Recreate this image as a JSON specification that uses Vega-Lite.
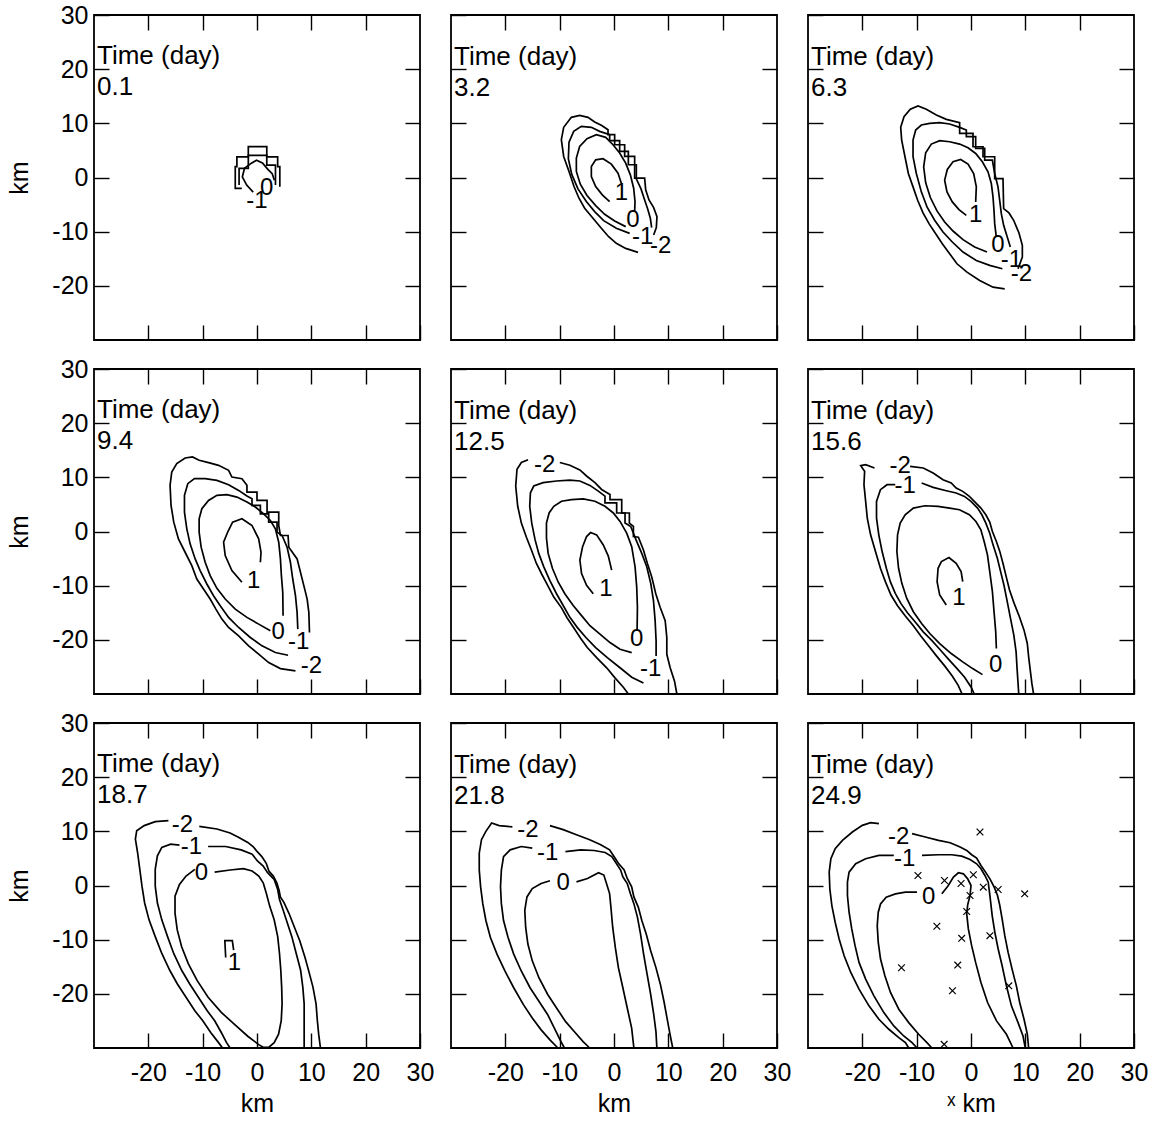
{
"$schema": "https://vega.github.io/schema/vega-lite/v6.json",
"padding": {"left": 6, "top": 2, "right": 0, "bottom": 0},
"config": {
 "font": "Liberation Sans",
 "view": {"stroke": "black", "strokeWidth": 1.8},
 "axis": {"domain": false, "grid": false, "tickColor": "black", "tickWidth": 1.4, "tickSize": -15, "labelFontSize": 25, "labelColor": "black", "labelFont": "Liberation Sans", "titleFontSize": 25, "titleFontWeight": "normal", "titleColor": "black", "titleFont": "Liberation Sans", "minExtent": 0, "labelOverlap": false, "labelFlush": false, "labelExpr": "datum.value < 0 ? '-' + abs(datum.value) : '' + datum.value"},
 "axisX": {"labelPadding": 27, "titlePadding": 6},
 "axisY": {"labelPadding": 21, "titlePadding": 19},
 "title": {"anchor": "start", "frame": "group", "orient": "top", "offset": -87, "baseline": "top", "fontSize": 26, "fontWeight": "normal", "lineHeight": 31, "dx": 3, "color": "black", "font": "Liberation Sans"},
 "line": {"color": "black", "strokeWidth": 1.7, "clip": true},
 "text": {"fontSize": 24, "font": "Liberation Sans", "color": "black"}
},
"datasets": {
 "lines": [
  {"p":1,"g":"m2","x":-2.8,"y":-2.0},{"p":1,"g":"m2","x":-4.0,"y":-2.0},{"p":1,"g":"m2","x":-4.0,"y":2.0},{"p":1,"g":"m2","x":-3.7,"y":2.0},{"p":1,"g":"m2","x":-3.7,"y":3.8},{"p":1,"g":"m2","x":-1.6,"y":3.8},{"p":1,"g":"m2","x":-1.6,"y":5.7},{"p":1,"g":"m2","x":1.8,"y":5.7},{"p":1,"g":"m2","x":1.8,"y":3.8},{"p":1,"g":"m2","x":3.8,"y":3.8},{"p":1,"g":"m2","x":3.8,"y":2.0},{"p":1,"g":"m2","x":4.2,"y":2.0},{"p":1,"g":"m2","x":4.2,"y":-1.7},
  {"p":1,"g":"m1","x":-3.3,"y":-1.4},{"p":1,"g":"m1","x":-3.3,"y":1.7},{"p":1,"g":"m1","x":-1.6,"y":1.7},{"p":1,"g":"m1","x":-1.6,"y":4.1},{"p":1,"g":"m1","x":1.8,"y":4.1},{"p":1,"g":"m1","x":1.8,"y":2.3},{"p":1,"g":"m1","x":3.4,"y":2.3},{"p":1,"g":"m1","x":3.4,"y":-1.4},
  {"p":1,"g":"z","x":-0.7,"y":-2.7},{"p":1,"g":"z","x":-1.9,"y":-1.4},{"p":1,"g":"z","x":-2.7,"y":0.1},{"p":1,"g":"z","x":-2.3,"y":1.7},{"p":1,"g":"z","x":-1.1,"y":2.6},{"p":1,"g":"z","x":-0.1,"y":3.2},{"p":1,"g":"z","x":1.0,"y":2.7},{"p":1,"g":"z","x":2.0,"y":1.5},{"p":1,"g":"z","x":2.8,"y":0.7},{"p":1,"g":"z","x":3.2,"y":-0.5},

  {"p":2,"g":"l1","x":1.35,"y":-1.05},{"p":2,"g":"l1","x":0.74,"y":0.8},{"p":2,"g":"l1","x":-0.49,"y":2.47},{"p":2,"g":"l1","x":-2.02,"y":3.46},{"p":2,"g":"l1","x":-3.37,"y":3.27},{"p":2,"g":"l1","x":-4.17,"y":2.04},{"p":2,"g":"l1","x":-4.17,"y":0.19},{"p":2,"g":"l1","x":-3.37,"y":-1.67},{"p":2,"g":"l1","x":-2.15,"y":-3.21},{"p":2,"g":"l1","x":-0.8,"y":-4.44},
  {"p":2,"g":"z","x":2.15,"y":-9.07},{"p":2,"g":"z","x":0.12,"y":-8.02},{"p":2,"g":"z","x":-1.72,"y":-6.79},{"p":2,"g":"z","x":-3.37,"y":-5.19},{"p":2,"g":"z","x":-4.97,"y":-3.33},{"p":2,"g":"z","x":-6.2,"y":-1.23},{"p":2,"g":"z","x":-6.93,"y":1.11},{"p":2,"g":"z","x":-6.93,"y":3.58},{"p":2,"g":"z","x":-6.32,"y":5.74},{"p":2,"g":"z","x":-4.97,"y":7.16},{"p":2,"g":"z","x":-3.25,"y":7.9},{"p":2,"g":"z","x":-1.53,"y":7.41},{"p":2,"g":"z","x":-0.18,"y":6.05},{"p":2,"g":"z","x":1.04,"y":4.51},{"p":2,"g":"z","x":2.15,"y":2.65},{"p":2,"g":"z","x":3.01,"y":0.49},{"p":2,"g":"z","x":3.62,"y":-1.98},{"p":2,"g":"z","x":3.87,"y":-4.44},{"p":2,"g":"z","x":3.8,"y":-6.3},
  {"p":2,"g":"m1","x":2.88,"y":-10.31},{"p":2,"g":"m1","x":0.43,"y":-9.38},{"p":2,"g":"m1","x":-1.9,"y":-7.96},{"p":2,"g":"m1","x":-3.56,"y":-6.3},{"p":2,"g":"m1","x":-5.09,"y":-4.44},{"p":2,"g":"m1","x":-6.63,"y":-2.1},{"p":2,"g":"m1","x":-7.79,"y":0.62},{"p":2,"g":"m1","x":-8.4,"y":3.46},{"p":2,"g":"m1","x":-8.28,"y":6.54},{"p":2,"g":"m1","x":-7.42,"y":8.52},{"p":2,"g":"m1","x":-6.01,"y":9.44},{"p":2,"g":"m1","x":-4.17,"y":9.26},{"p":2,"g":"m1","x":-2.64,"y":8.52},{"p":2,"g":"m1","x":-0.8,"y":7.9},{"p":2,"g":"m1","x":-0.8,"y":6.79},{"p":2,"g":"m1","x":1.04,"y":6.79},{"p":2,"g":"m1","x":1.04,"y":4.81},{"p":2,"g":"m1","x":2.64,"y":4.81},{"p":2,"g":"m1","x":2.64,"y":2.35},{"p":2,"g":"m1","x":4.11,"y":2.35},{"p":2,"g":"m1","x":4.11,"y":-0.25},{"p":2,"g":"m1","x":4.97,"y":-2.1},{"p":2,"g":"m1","x":5.58,"y":-3.95},{"p":2,"g":"m1","x":6.2,"y":-5.8},{"p":2,"g":"m1","x":6.69,"y":-7.53},{"p":2,"g":"m1","x":6.93,"y":-9.26},
  {"p":2,"g":"m2","x":4.42,"y":-13.83},{"p":2,"g":"m2","x":2.15,"y":-13.09},{"p":2,"g":"m2","x":0.43,"y":-12.16},{"p":2,"g":"m2","x":-0.98,"y":-10.93},{"p":2,"g":"m2","x":-2.33,"y":-9.38},{"p":2,"g":"m2","x":-3.87,"y":-7.53},{"p":2,"g":"m2","x":-5.4,"y":-5.68},{"p":2,"g":"m2","x":-6.44,"y":-3.83},{"p":2,"g":"m2","x":-7.36,"y":-1.67},{"p":2,"g":"m2","x":-8.28,"y":1.11},{"p":2,"g":"m2","x":-9.26,"y":3.89},{"p":2,"g":"m2","x":-9.69,"y":6.98},{"p":2,"g":"m2","x":-9.26,"y":9.26},{"p":2,"g":"m2","x":-7.85,"y":11.11},{"p":2,"g":"m2","x":-6.32,"y":11.48},{"p":2,"g":"m2","x":-4.79,"y":11.11},{"p":2,"g":"m2","x":-3.56,"y":10.25},{"p":2,"g":"m2","x":-2.33,"y":9.63},{"p":2,"g":"m2","x":-1.1,"y":8.83},{"p":2,"g":"m2","x":-1.1,"y":7.9},{"p":2,"g":"m2","x":0.12,"y":7.9},{"p":2,"g":"m2","x":0.12,"y":6.05},{"p":2,"g":"m2","x":1.96,"y":6.05},{"p":2,"g":"m2","x":1.96,"y":3.89},{"p":2,"g":"m2","x":3.8,"y":3.89},{"p":2,"g":"m2","x":3.8,"y":-0.12},{"p":2,"g":"m2","x":5.64,"y":-0.12},{"p":2,"g":"m2","x":5.83,"y":-2.28},{"p":2,"g":"m2","x":6.44,"y":-4.14},{"p":2,"g":"m2","x":7.3,"y":-5.56},{"p":2,"g":"m2","x":7.91,"y":-7.22},{"p":2,"g":"m2","x":7.79,"y":-9.26},{"p":2,"g":"m2","x":7.3,"y":-10.62},

  {"p":3,"g":"l1","x":0.86,"y":-4.51},{"p":3,"g":"l1","x":0.98,"y":-1.73},{"p":3,"g":"l1","x":0.49,"y":0.74},{"p":3,"g":"l1","x":-0.55,"y":2.47},{"p":3,"g":"l1","x":-1.9,"y":3.33},{"p":3,"g":"l1","x":-3.31,"y":2.9},{"p":3,"g":"l1","x":-4.36,"y":1.48},{"p":3,"g":"l1","x":-4.85,"y":-0.49},{"p":3,"g":"l1","x":-4.42,"y":-2.65},{"p":3,"g":"l1","x":-3.44,"y":-4.51},{"p":3,"g":"l1","x":-2.21,"y":-5.93},{"p":3,"g":"l1","x":-0.86,"y":-6.98},
  {"p":3,"g":"z","x":2.94,"y":-13.77},{"p":3,"g":"z","x":0.67,"y":-12.84},{"p":3,"g":"z","x":-1.47,"y":-11.48},{"p":3,"g":"z","x":-3.31,"y":-9.88},{"p":3,"g":"z","x":-4.85,"y":-8.21},{"p":3,"g":"z","x":-6.26,"y":-6.17},{"p":3,"g":"z","x":-7.48,"y":-3.7},{"p":3,"g":"z","x":-8.34,"y":-0.99},{"p":3,"g":"z","x":-8.71,"y":1.98},{"p":3,"g":"z","x":-8.34,"y":4.57},{"p":3,"g":"z","x":-7.3,"y":6.17},{"p":3,"g":"z","x":-5.77,"y":6.79},{"p":3,"g":"z","x":-3.93,"y":6.6},{"p":3,"g":"z","x":-2.09,"y":6.17},{"p":3,"g":"z","x":-0.55,"y":5.49},{"p":3,"g":"z","x":0.86,"y":4.44},{"p":3,"g":"z","x":2.09,"y":2.9},{"p":3,"g":"z","x":3.13,"y":1.05},{"p":3,"g":"z","x":3.74,"y":-1.11},{"p":3,"g":"z","x":4.05,"y":-3.58},{"p":3,"g":"z","x":4.23,"y":-6.05},{"p":3,"g":"z","x":4.36,"y":-8.52},{"p":3,"g":"z","x":4.66,"y":-10.99},
  {"p":3,"g":"m1","x":5.77,"y":-16.85},{"p":3,"g":"m1","x":3.44,"y":-16.23},{"p":3,"g":"m1","x":0.98,"y":-15.31},{"p":3,"g":"m1","x":-1.47,"y":-13.77},{"p":3,"g":"m1","x":-3.44,"y":-11.91},{"p":3,"g":"m1","x":-5.15,"y":-10.06},{"p":3,"g":"m1","x":-6.69,"y":-7.9},{"p":3,"g":"m1","x":-8.1,"y":-5.43},{"p":3,"g":"m1","x":-9.14,"y":-2.65},{"p":3,"g":"m1","x":-10.06,"y":0.74},{"p":3,"g":"m1","x":-10.67,"y":3.83},{"p":3,"g":"m1","x":-10.67,"y":6.91},{"p":3,"g":"m1","x":-10.18,"y":8.77},{"p":3,"g":"m1","x":-9.14,"y":9.69},{"p":3,"g":"m1","x":-7.61,"y":10.0},{"p":3,"g":"m1","x":-5.77,"y":10.12},{"p":3,"g":"m1","x":-3.93,"y":9.88},{"p":3,"g":"m1","x":-2.09,"y":9.26},{"p":3,"g":"m1","x":-0.86,"y":8.77},{"p":3,"g":"m1","x":-0.86,"y":7.53},{"p":3,"g":"m1","x":0.86,"y":7.53},{"p":3,"g":"m1","x":0.86,"y":5.37},{"p":3,"g":"m1","x":2.52,"y":5.37},{"p":3,"g":"m1","x":2.52,"y":3.21},{"p":3,"g":"m1","x":3.93,"y":3.21},{"p":3,"g":"m1","x":4.36,"y":0.74},{"p":3,"g":"m1","x":4.97,"y":-1.73},{"p":3,"g":"m1","x":5.28,"y":-4.2},{"p":3,"g":"m1","x":5.58,"y":-6.67},{"p":3,"g":"m1","x":6.01,"y":-8.83},{"p":3,"g":"m1","x":6.63,"y":-10.86},{"p":3,"g":"m1","x":7.24,"y":-12.84},
  {"p":3,"g":"m2","x":6.2,"y":-20.56},{"p":3,"g":"m2","x":4.05,"y":-20.25},{"p":3,"g":"m2","x":1.6,"y":-19.01},{"p":3,"g":"m2","x":-0.74,"y":-17.47},{"p":3,"g":"m2","x":-2.58,"y":-15.93},{"p":3,"g":"m2","x":-3.93,"y":-14.07},{"p":3,"g":"m2","x":-5.28,"y":-12.22},{"p":3,"g":"m2","x":-6.5,"y":-10.37},{"p":3,"g":"m2","x":-7.73,"y":-8.52},{"p":3,"g":"m2","x":-8.83,"y":-6.54},{"p":3,"g":"m2","x":-9.82,"y":-4.2},{"p":3,"g":"m2","x":-10.67,"y":-1.73},{"p":3,"g":"m2","x":-11.53,"y":0.74},{"p":3,"g":"m2","x":-12.15,"y":3.83},{"p":3,"g":"m2","x":-12.76,"y":6.91},{"p":3,"g":"m2","x":-12.94,"y":9.26},{"p":3,"g":"m2","x":-12.33,"y":11.23},{"p":3,"g":"m2","x":-11.17,"y":12.59},{"p":3,"g":"m2","x":-9.75,"y":13.21},{"p":3,"g":"m2","x":-8.22,"y":12.59},{"p":3,"g":"m2","x":-6.38,"y":11.54},{"p":3,"g":"m2","x":-4.54,"y":10.74},{"p":3,"g":"m2","x":-2.09,"y":10.12},{"p":3,"g":"m2","x":-2.09,"y":8.15},{"p":3,"g":"m2","x":0.37,"y":8.15},{"p":3,"g":"m2","x":0.37,"y":5.68},{"p":3,"g":"m2","x":2.21,"y":5.68},{"p":3,"g":"m2","x":2.21,"y":3.83},{"p":3,"g":"m2","x":4.36,"y":3.83},{"p":3,"g":"m2","x":4.36,"y":-0.19},{"p":3,"g":"m2","x":5.89,"y":-0.19},{"p":3,"g":"m2","x":6.01,"y":-5.74},{"p":3,"g":"m2","x":6.99,"y":-6.54},{"p":3,"g":"m2","x":7.85,"y":-7.9},{"p":3,"g":"m2","x":8.83,"y":-10.25},{"p":3,"g":"m2","x":9.45,"y":-12.53},{"p":3,"g":"m2","x":9.45,"y":-14.69},{"p":3,"g":"m2","x":8.65,"y":-16.85},

  {"p":4,"g":"l1","x":-2.77,"y":-9.38},{"p":4,"g":"l1","x":-4.62,"y":-7.22},{"p":4,"g":"l1","x":-5.85,"y":-4.44},{"p":4,"g":"l1","x":-6.15,"y":-1.98},{"p":4,"g":"l1","x":-5.35,"y":0.0},{"p":4,"g":"l1","x":-4.49,"y":1.73},{"p":4,"g":"l1","x":-2.77,"y":2.35},{"p":4,"g":"l1","x":-0.92,"y":1.11},{"p":4,"g":"l1","x":0.31,"y":-1.36},{"p":4,"g":"l1","x":0.74,"y":-3.83},{"p":4,"g":"l1","x":0.62,"y":-5.68},
  {"p":4,"g":"z","x":2.46,"y":-18.33},{"p":4,"g":"z","x":0.31,"y":-17.1},{"p":4,"g":"z","x":-1.85,"y":-15.86},{"p":4,"g":"z","x":-4.0,"y":-14.32},{"p":4,"g":"z","x":-5.85,"y":-12.47},{"p":4,"g":"z","x":-7.38,"y":-10.49},{"p":4,"g":"z","x":-8.62,"y":-8.15},{"p":4,"g":"z","x":-9.54,"y":-5.68},{"p":4,"g":"z","x":-10.28,"y":-2.9},{"p":4,"g":"z","x":-10.65,"y":-0.12},{"p":4,"g":"z","x":-10.65,"y":2.35},{"p":4,"g":"z","x":-10.15,"y":4.2},{"p":4,"g":"z","x":-8.92,"y":5.74},{"p":4,"g":"z","x":-7.38,"y":6.67},{"p":4,"g":"z","x":-5.54,"y":6.79},{"p":4,"g":"z","x":-3.69,"y":6.36},{"p":4,"g":"z","x":-1.85,"y":5.43},{"p":4,"g":"z","x":-0.31,"y":4.51},{"p":4,"g":"z","x":1.23,"y":3.27},{"p":4,"g":"z","x":2.46,"y":2.04},{"p":4,"g":"z","x":3.38,"y":0.49},{"p":4,"g":"z","x":4.0,"y":-1.98},{"p":4,"g":"z","x":4.31,"y":-5.06},{"p":4,"g":"z","x":4.49,"y":-8.15},{"p":4,"g":"z","x":4.74,"y":-11.23},{"p":4,"g":"z","x":4.8,"y":-15.56},
  {"p":4,"g":"m1","x":5.72,"y":-22.84},{"p":4,"g":"m1","x":3.38,"y":-22.35},{"p":4,"g":"m1","x":0.92,"y":-21.11},{"p":4,"g":"m1","x":-1.23,"y":-19.57},{"p":4,"g":"m1","x":-3.38,"y":-17.72},{"p":4,"g":"m1","x":-5.23,"y":-15.86},{"p":4,"g":"m1","x":-6.77,"y":-13.7},{"p":4,"g":"m1","x":-8.0,"y":-11.85},{"p":4,"g":"m1","x":-9.23,"y":-9.69},{"p":4,"g":"m1","x":-10.46,"y":-7.22},{"p":4,"g":"m1","x":-11.38,"y":-5.06},{"p":4,"g":"m1","x":-12.31,"y":-2.28},{"p":4,"g":"m1","x":-12.92,"y":0.49},{"p":4,"g":"m1","x":-13.35,"y":3.58},{"p":4,"g":"m1","x":-13.35,"y":6.67},{"p":4,"g":"m1","x":-12.74,"y":8.83},{"p":4,"g":"m1","x":-11.51,"y":9.75},{"p":4,"g":"m1","x":-9.54,"y":9.75},{"p":4,"g":"m1","x":-7.38,"y":9.44},{"p":4,"g":"m1","x":-5.23,"y":8.64},{"p":4,"g":"m1","x":-3.38,"y":7.59},{"p":4,"g":"m1","x":-1.85,"y":6.54},{"p":4,"g":"m1","x":-0.92,"y":6.05},{"p":4,"g":"m1","x":-0.92,"y":4.81},{"p":4,"g":"m1","x":0.62,"y":4.81},{"p":4,"g":"m1","x":0.62,"y":3.27},{"p":4,"g":"m1","x":2.15,"y":3.27},{"p":4,"g":"m1","x":2.15,"y":1.73},{"p":4,"g":"m1","x":3.69,"y":1.73},{"p":4,"g":"m1","x":3.69,"y":-0.12},{"p":4,"g":"m1","x":4.62,"y":-0.74},{"p":4,"g":"m1","x":5.54,"y":-2.9},{"p":4,"g":"m1","x":6.15,"y":-5.68},{"p":4,"g":"m1","x":6.58,"y":-8.77},{"p":4,"g":"m1","x":7.08,"y":-11.85},{"p":4,"g":"m1","x":7.38,"y":-14.94},{"p":4,"g":"m1","x":7.51,"y":-18.02},
  {"p":4,"g":"m2","x":7.08,"y":-25.74},{"p":4,"g":"m2","x":4.31,"y":-25.31},{"p":4,"g":"m2","x":2.15,"y":-24.2},{"p":4,"g":"m2","x":0.31,"y":-22.65},{"p":4,"g":"m2","x":-1.54,"y":-21.11},{"p":4,"g":"m2","x":-3.38,"y":-19.26},{"p":4,"g":"m2","x":-5.23,"y":-17.72},{"p":4,"g":"m2","x":-6.46,"y":-16.17},{"p":4,"g":"m2","x":-7.57,"y":-14.32},{"p":4,"g":"m2","x":-8.62,"y":-12.47},{"p":4,"g":"m2","x":-9.85,"y":-10.62},{"p":4,"g":"m2","x":-11.08,"y":-8.77},{"p":4,"g":"m2","x":-12.0,"y":-6.3},{"p":4,"g":"m2","x":-13.23,"y":-3.83},{"p":4,"g":"m2","x":-14.46,"y":-1.36},{"p":4,"g":"m2","x":-15.32,"y":1.73},{"p":4,"g":"m2","x":-15.82,"y":4.81},{"p":4,"g":"m2","x":-16.0,"y":8.52},{"p":4,"g":"m2","x":-15.69,"y":10.99},{"p":4,"g":"m2","x":-14.77,"y":12.53},{"p":4,"g":"m2","x":-13.23,"y":13.58},{"p":4,"g":"m2","x":-11.88,"y":13.77},{"p":4,"g":"m2","x":-10.65,"y":13.15},{"p":4,"g":"m2","x":-8.92,"y":12.72},{"p":4,"g":"m2","x":-7.08,"y":12.22},{"p":4,"g":"m2","x":-5.23,"y":11.3},{"p":4,"g":"m2","x":-4.62,"y":10.06},{"p":4,"g":"m2","x":-2.77,"y":9.75},{"p":4,"g":"m2","x":-1.85,"y":8.52},{"p":4,"g":"m2","x":-1.85,"y":7.28},{"p":4,"g":"m2","x":0.0,"y":7.28},{"p":4,"g":"m2","x":0.0,"y":5.74},{"p":4,"g":"m2","x":1.85,"y":5.74},{"p":4,"g":"m2","x":1.85,"y":3.58},{"p":4,"g":"m2","x":4.0,"y":3.58},{"p":4,"g":"m2","x":4.0,"y":1.11},{"p":4,"g":"m2","x":4.31,"y":-0.74},{"p":4,"g":"m2","x":5.72,"y":-0.74},{"p":4,"g":"m2","x":5.85,"y":-2.9},{"p":4,"g":"m2","x":7.38,"y":-5.06},{"p":4,"g":"m2","x":8.0,"y":-7.53},{"p":4,"g":"m2","x":8.62,"y":-10.0},{"p":4,"g":"m2","x":9.23,"y":-12.47},{"p":4,"g":"m2","x":9.54,"y":-14.94},{"p":4,"g":"m2","x":9.66,"y":-18.64},

  {"p":5,"g":"l1","x":-3.82,"y":-11.49},{"p":5,"g":"l1","x":-5.05,"y":-9.94},{"p":5,"g":"l1","x":-5.97,"y":-7.76},{"p":5,"g":"l1","x":-6.28,"y":-5.28},{"p":5,"g":"l1","x":-5.78,"y":-2.8},{"p":5,"g":"l1","x":-5.05,"y":-0.93},{"p":5,"g":"l1","x":-4.31,"y":-0.19},{"p":5,"g":"l1","x":-3.2,"y":-0.62},{"p":5,"g":"l1","x":-1.97,"y":-2.48},{"p":5,"g":"l1","x":-1.05,"y":-4.53},{"p":5,"g":"l1","x":-0.43,"y":-7.14},
  {"p":5,"g":"z","x":3.26,"y":-22.36},{"p":5,"g":"z","x":1.11,"y":-21.74},{"p":5,"g":"z","x":-0.74,"y":-20.5},{"p":5,"g":"z","x":-2.58,"y":-18.94},{"p":5,"g":"z","x":-4.43,"y":-17.39},{"p":5,"g":"z","x":-5.97,"y":-15.53},{"p":5,"g":"z","x":-7.51,"y":-13.66},{"p":5,"g":"z","x":-9.05,"y":-11.49},{"p":5,"g":"z","x":-10.28,"y":-9.32},{"p":5,"g":"z","x":-11.32,"y":-6.83},{"p":5,"g":"z","x":-12.12,"y":-4.04},{"p":5,"g":"z","x":-12.43,"y":-1.24},{"p":5,"g":"z","x":-12.43,"y":1.55},{"p":5,"g":"z","x":-11.94,"y":3.42},{"p":5,"g":"z","x":-11.08,"y":4.66},{"p":5,"g":"z","x":-9.66,"y":5.59},{"p":5,"g":"z","x":-7.82,"y":5.9},{"p":5,"g":"z","x":-5.66,"y":6.02},{"p":5,"g":"z","x":-3.51,"y":5.59},{"p":5,"g":"z","x":-1.66,"y":4.66},{"p":5,"g":"z","x":-0.12,"y":3.42},{"p":5,"g":"z","x":1.11,"y":1.86},{"p":5,"g":"z","x":2.34,"y":-0.31},{"p":5,"g":"z","x":3.26,"y":-2.8},{"p":5,"g":"z","x":3.88,"y":-6.52},{"p":5,"g":"z","x":4.18,"y":-10.25},{"p":5,"g":"z","x":4.31,"y":-13.98},{"p":5,"g":"z","x":4.25,"y":-18.32},
  {"p":5,"g":"m1","x":5.42,"y":-27.95},{"p":5,"g":"m1","x":3.26,"y":-26.89},{"p":5,"g":"m1","x":1.11,"y":-25.16},{"p":5,"g":"m1","x":-1.23,"y":-23.29},{"p":5,"g":"m1","x":-3.38,"y":-21.43},{"p":5,"g":"m1","x":-5.17,"y":-19.57},{"p":5,"g":"m1","x":-6.77,"y":-17.7},{"p":5,"g":"m1","x":-8.12,"y":-15.84},{"p":5,"g":"m1","x":-9.35,"y":-13.66},{"p":5,"g":"m1","x":-10.58,"y":-11.49},{"p":5,"g":"m1","x":-11.82,"y":-9.01},{"p":5,"g":"m1","x":-12.92,"y":-6.52},{"p":5,"g":"m1","x":-13.85,"y":-4.04},{"p":5,"g":"m1","x":-14.52,"y":-1.55},{"p":5,"g":"m1","x":-15.14,"y":1.55},{"p":5,"g":"m1","x":-15.51,"y":4.66},{"p":5,"g":"m1","x":-15.38,"y":7.14},{"p":5,"g":"m1","x":-14.77,"y":8.39},{"p":5,"g":"m1","x":-13.05,"y":9.01},{"p":5,"g":"m1","x":-10.58,"y":9.32},{"p":5,"g":"m1","x":-8.12,"y":9.5},{"p":5,"g":"m1","x":-6.28,"y":9.32},{"p":5,"g":"m1","x":-4.43,"y":8.51},{"p":5,"g":"m1","x":-2.89,"y":7.45},{"p":5,"g":"m1","x":-1.66,"y":6.52},{"p":5,"g":"m1","x":-1.66,"y":5.28},{"p":5,"g":"m1","x":0.49,"y":5.28},{"p":5,"g":"m1","x":0.49,"y":3.42},{"p":5,"g":"m1","x":2.03,"y":3.42},{"p":5,"g":"m1","x":2.03,"y":1.55},{"p":5,"g":"m1","x":3.08,"y":0.93},{"p":5,"g":"m1","x":4.06,"y":-1.55},{"p":5,"g":"m1","x":5.11,"y":-4.04},{"p":5,"g":"m1","x":6.03,"y":-6.52},{"p":5,"g":"m1","x":6.77,"y":-9.63},{"p":5,"g":"m1","x":7.26,"y":-12.73},{"p":5,"g":"m1","x":7.57,"y":-16.46},{"p":5,"g":"m1","x":7.75,"y":-20.19},{"p":5,"g":"m1","x":7.75,"y":-22.98},
  {"p":5,"g":"m2a","x":-15.82,"y":13.23},{"p":5,"g":"m2a","x":-17.05,"y":12.73},{"p":5,"g":"m2a","x":-17.85,"y":11.49},{"p":5,"g":"m2a","x":-18.09,"y":8.39},{"p":5,"g":"m2a","x":-17.72,"y":4.66},{"p":5,"g":"m2a","x":-17.05,"y":1.55},{"p":5,"g":"m2a","x":-16.12,"y":-1.06},{"p":5,"g":"m2a","x":-15.2,"y":-3.42},{"p":5,"g":"m2a","x":-14.28,"y":-5.9},{"p":5,"g":"m2a","x":-13.29,"y":-7.89},{"p":5,"g":"m2a","x":-12.31,"y":-9.75},{"p":5,"g":"m2a","x":-11.08,"y":-12.11},{"p":5,"g":"m2a","x":-9.66,"y":-14.1},{"p":5,"g":"m2a","x":-8.62,"y":-15.96},{"p":5,"g":"m2a","x":-7.38,"y":-17.83},{"p":5,"g":"m2a","x":-6.15,"y":-19.69},{"p":5,"g":"m2a","x":-4.92,"y":-21.43},{"p":5,"g":"m2a","x":-3.2,"y":-23.29},{"p":5,"g":"m2a","x":-1.35,"y":-25.16},{"p":5,"g":"m2a","x":0.18,"y":-27.02},{"p":5,"g":"m2a","x":1.72,"y":-28.76},{"p":5,"g":"m2a","x":2.65,"y":-30.0},
  {"p":5,"g":"m2b","x":-9.97,"y":12.73},{"p":5,"g":"m2b","x":-8.12,"y":12.24},{"p":5,"g":"m2b","x":-6.28,"y":11.37},{"p":5,"g":"m2b","x":-5.05,"y":10.25},{"p":5,"g":"m2b","x":-3.51,"y":9.01},{"p":5,"g":"m2b","x":-2.28,"y":7.76},{"p":5,"g":"m2b","x":-0.74,"y":6.83},{"p":5,"g":"m2b","x":-0.74,"y":5.9},{"p":5,"g":"m2b","x":1.42,"y":5.9},{"p":5,"g":"m2b","x":1.42,"y":3.42},{"p":5,"g":"m2b","x":2.83,"y":3.42},{"p":5,"g":"m2b","x":2.83,"y":1.55},{"p":5,"g":"m2b","x":3.57,"y":0.93},{"p":5,"g":"m2b","x":3.57,"y":-0.93},{"p":5,"g":"m2b","x":4.49,"y":-1.06},{"p":5,"g":"m2b","x":5.42,"y":-3.42},{"p":5,"g":"m2b","x":6.15,"y":-5.9},{"p":5,"g":"m2b","x":6.95,"y":-8.39},{"p":5,"g":"m2b","x":7.69,"y":-11.49},{"p":5,"g":"m2b","x":8.49,"y":-13.98},{"p":5,"g":"m2b","x":9.42,"y":-16.46},{"p":5,"g":"m2b","x":9.72,"y":-19.57},{"p":5,"g":"m2b","x":9.72,"y":-22.67},{"p":5,"g":"m2b","x":10.34,"y":-25.16},{"p":5,"g":"m2b","x":11.14,"y":-27.64},{"p":5,"g":"m2b","x":11.57,"y":-30.0},

  {"p":6,"g":"l1","x":-4.55,"y":-13.58},{"p":6,"g":"l1","x":-5.76,"y":-11.73},{"p":6,"g":"l1","x":-6.24,"y":-9.26},{"p":6,"g":"l1","x":-6.06,"y":-6.79},{"p":6,"g":"l1","x":-5.45,"y":-5.56},{"p":6,"g":"l1","x":-4.06,"y":-4.81},{"p":6,"g":"l1","x":-2.73,"y":-5.86},{"p":6,"g":"l1","x":-1.82,"y":-7.41},{"p":6,"g":"l1","x":-1.52,"y":-9.26},
  {"p":6,"g":"z","x":2.12,"y":-26.42},{"p":6,"g":"z","x":0.3,"y":-25.31},{"p":6,"g":"z","x":-1.52,"y":-24.07},{"p":6,"g":"z","x":-3.64,"y":-22.53},{"p":6,"g":"z","x":-5.76,"y":-20.68},{"p":6,"g":"z","x":-7.58,"y":-18.83},{"p":6,"g":"z","x":-9.09,"y":-16.98},{"p":6,"g":"z","x":-10.61,"y":-14.81},{"p":6,"g":"z","x":-11.82,"y":-12.35},{"p":6,"g":"z","x":-12.73,"y":-9.57},{"p":6,"g":"z","x":-13.33,"y":-6.79},{"p":6,"g":"z","x":-13.64,"y":-3.7},{"p":6,"g":"z","x":-13.52,"y":-0.62},{"p":6,"g":"z","x":-13.03,"y":1.54},{"p":6,"g":"z","x":-12.12,"y":3.09},{"p":6,"g":"z","x":-10.61,"y":4.32},{"p":6,"g":"z","x":-8.48,"y":4.75},{"p":6,"g":"z","x":-6.06,"y":4.63},{"p":6,"g":"z","x":-3.94,"y":4.32},{"p":6,"g":"z","x":-2.12,"y":4.01},{"p":6,"g":"z","x":-0.3,"y":3.09},{"p":6,"g":"z","x":0.91,"y":1.85},{"p":6,"g":"z","x":1.82,"y":0.31},{"p":6,"g":"z","x":2.42,"y":-1.85},{"p":6,"g":"z","x":3.03,"y":-4.32},{"p":6,"g":"z","x":3.45,"y":-7.41},{"p":6,"g":"z","x":3.94,"y":-11.11},{"p":6,"g":"z","x":4.24,"y":-14.81},{"p":6,"g":"z","x":4.55,"y":-18.52},{"p":6,"g":"z","x":4.67,"y":-21.6},
  {"p":6,"g":"m1a","x":-13.94,"y":8.64},{"p":6,"g":"m1a","x":-15.45,"y":8.64},{"p":6,"g":"m1a","x":-16.67,"y":7.72},{"p":6,"g":"m1a","x":-17.39,"y":5.56},{"p":6,"g":"m1a","x":-17.39,"y":2.47},{"p":6,"g":"m1a","x":-16.97,"y":-0.62},{"p":6,"g":"m1a","x":-16.36,"y":-3.7},{"p":6,"g":"m1a","x":-15.58,"y":-6.79},{"p":6,"g":"m1a","x":-14.85,"y":-9.26},{"p":6,"g":"m1a","x":-13.94,"y":-11.42},{"p":6,"g":"m1a","x":-12.91,"y":-13.27},{"p":6,"g":"m1a","x":-11.7,"y":-15.0},{"p":6,"g":"m1a","x":-10.3,"y":-16.67},{"p":6,"g":"m1a","x":-8.79,"y":-18.52},{"p":6,"g":"m1a","x":-7.27,"y":-20.06},{"p":6,"g":"m1a","x":-5.76,"y":-21.73},{"p":6,"g":"m1a","x":-4.24,"y":-23.46},{"p":6,"g":"m1a","x":-2.73,"y":-25.12},{"p":6,"g":"m1a","x":-1.21,"y":-26.85},{"p":6,"g":"m1a","x":0.0,"y":-28.7},{"p":6,"g":"m1a","x":0.61,"y":-30.0},
  {"p":6,"g":"m1b","x":-9.09,"y":8.95},{"p":6,"g":"m1b","x":-6.97,"y":8.15},{"p":6,"g":"m1b","x":-4.55,"y":7.53},{"p":6,"g":"m1b","x":-2.73,"y":7.1},{"p":6,"g":"m1b","x":-1.21,"y":6.48},{"p":6,"g":"m1b","x":0.0,"y":5.56},{"p":6,"g":"m1b","x":1.21,"y":4.32},{"p":6,"g":"m1b","x":2.0,"y":3.09},{"p":6,"g":"m1b","x":2.73,"y":1.54},{"p":6,"g":"m1b","x":3.45,"y":-0.31},{"p":6,"g":"m1b","x":4.06,"y":-2.47},{"p":6,"g":"m1b","x":4.85,"y":-4.94},{"p":6,"g":"m1b","x":5.45,"y":-7.41},{"p":6,"g":"m1b","x":6.06,"y":-9.88},{"p":6,"g":"m1b","x":6.67,"y":-12.96},{"p":6,"g":"m1b","x":7.27,"y":-16.05},{"p":6,"g":"m1b","x":7.88,"y":-19.14},{"p":6,"g":"m1b","x":8.3,"y":-22.22},{"p":6,"g":"m1b","x":8.48,"y":-25.31},{"p":6,"g":"m1b","x":8.79,"y":-30.0},
  {"p":6,"g":"m2a","x":-17.76,"y":11.73},{"p":6,"g":"m2a","x":-19.39,"y":12.35},{"p":6,"g":"m2a","x":-20.3,"y":12.16},{"p":6,"g":"m2a","x":-19.58,"y":11.11},{"p":6,"g":"m2a","x":-19.7,"y":8.64},{"p":6,"g":"m2a","x":-19.39,"y":5.56},{"p":6,"g":"m2a","x":-19.09,"y":2.47},{"p":6,"g":"m2a","x":-18.48,"y":-0.62},{"p":6,"g":"m2a","x":-17.58,"y":-3.7},{"p":6,"g":"m2a","x":-16.67,"y":-6.79},{"p":6,"g":"m2a","x":-15.76,"y":-9.26},{"p":6,"g":"m2a","x":-14.73,"y":-11.73},{"p":6,"g":"m2a","x":-13.52,"y":-13.7},{"p":6,"g":"m2a","x":-12.12,"y":-15.56},{"p":6,"g":"m2a","x":-10.61,"y":-17.41},{"p":6,"g":"m2a","x":-9.27,"y":-19.26},{"p":6,"g":"m2a","x":-7.82,"y":-21.11},{"p":6,"g":"m2a","x":-6.36,"y":-22.96},{"p":6,"g":"m2a","x":-4.85,"y":-24.81},{"p":6,"g":"m2a","x":-3.45,"y":-26.67},{"p":6,"g":"m2a","x":-2.36,"y":-28.4},{"p":6,"g":"m2a","x":-1.64,"y":-30.0},
  {"p":6,"g":"m2b","x":-11.21,"y":12.04},{"p":6,"g":"m2b","x":-8.79,"y":11.73},{"p":6,"g":"m2b","x":-6.97,"y":10.8},{"p":6,"g":"m2b","x":-5.15,"y":9.57},{"p":6,"g":"m2b","x":-3.64,"y":8.95},{"p":6,"g":"m2b","x":-2.73,"y":8.02},{"p":6,"g":"m2b","x":-1.52,"y":7.41},{"p":6,"g":"m2b","x":-0.3,"y":6.48},{"p":6,"g":"m2b","x":0.61,"y":5.56},{"p":6,"g":"m2b","x":1.82,"y":4.32},{"p":6,"g":"m2b","x":2.73,"y":3.09},{"p":6,"g":"m2b","x":3.45,"y":1.73},{"p":6,"g":"m2b","x":3.94,"y":0.0},{"p":6,"g":"m2b","x":4.67,"y":-1.85},{"p":6,"g":"m2b","x":5.27,"y":-3.58},{"p":6,"g":"m2b","x":5.88,"y":-5.86},{"p":6,"g":"m2b","x":6.48,"y":-8.33},{"p":6,"g":"m2b","x":7.09,"y":-10.8},{"p":6,"g":"m2b","x":7.94,"y":-13.27},{"p":6,"g":"m2b","x":8.91,"y":-15.74},{"p":6,"g":"m2b","x":9.76,"y":-18.21},{"p":6,"g":"m2b","x":10.36,"y":-20.68},{"p":6,"g":"m2b","x":10.61,"y":-23.15},{"p":6,"g":"m2b","x":10.91,"y":-25.62},{"p":6,"g":"m2b","x":11.21,"y":-28.09},{"p":6,"g":"m2b","x":11.52,"y":-30.0},

  {"p":7,"g":"l1","x":-5.76,"y":-13.29},{"p":7,"g":"l1","x":-5.92,"y":-10.19},{"p":7,"g":"l1","x":-4.54,"y":-10.19},{"p":7,"g":"l1","x":-4.3,"y":-11.93},
  {"p":7,"g":"z","x":-7.79,"y":2.48},{"p":7,"g":"z","x":-4.95,"y":2.86},{"p":7,"g":"z","x":-2.51,"y":3.11},{"p":7,"g":"z","x":-0.89,"y":2.67},{"p":7,"g":"z","x":0.32,"y":1.74},{"p":7,"g":"z","x":1.14,"y":0.5},{"p":7,"g":"z","x":1.7,"y":-1.37},{"p":7,"g":"z","x":2.35,"y":-3.85},{"p":7,"g":"z","x":3.16,"y":-6.34},{"p":7,"g":"z","x":3.81,"y":-9.44},{"p":7,"g":"z","x":4.14,"y":-12.55},{"p":7,"g":"z","x":4.38,"y":-15.65},{"p":7,"g":"z","x":4.54,"y":-18.76},{"p":7,"g":"z","x":4.62,"y":-21.86},{"p":7,"g":"z","x":4.46,"y":-24.97},{"p":7,"g":"z","x":3.97,"y":-27.45},{"p":7,"g":"z","x":3.16,"y":-29.01},{"p":7,"g":"z","x":2.2,"y":-29.85},{"p":7,"g":"z","x":1.2,"y":-29.9},{"p":7,"g":"z","x":0.32,"y":-29.38},{"p":7,"g":"z","x":-1.7,"y":-27.83},{"p":7,"g":"z","x":-4.14,"y":-25.65},{"p":7,"g":"z","x":-6.57,"y":-23.42},{"p":7,"g":"z","x":-9.0,"y":-20.62},{"p":7,"g":"z","x":-11.03,"y":-17.52},{"p":7,"g":"z","x":-12.65,"y":-14.41},{"p":7,"g":"z","x":-13.87,"y":-11.3},{"p":7,"g":"z","x":-14.68,"y":-8.2},{"p":7,"g":"z","x":-15.09,"y":-5.09},{"p":7,"g":"z","x":-15.09,"y":-1.99},{"p":7,"g":"z","x":-14.27,"y":0.19},{"p":7,"g":"z","x":-13.06,"y":1.74},{"p":7,"g":"z","x":-11.44,"y":2.98},
  {"p":7,"g":"m1a","x":-9.0,"y":7.2},{"p":7,"g":"m1a","x":-5.76,"y":7.2},{"p":7,"g":"m1a","x":-2.92,"y":6.58},{"p":7,"g":"m1a","x":-0.89,"y":5.78},{"p":7,"g":"m1a","x":0.08,"y":4.53},{"p":7,"g":"m1a","x":1.14,"y":3.6},{"p":7,"g":"m1a","x":1.95,"y":2.36},{"p":7,"g":"m1a","x":3.16,"y":1.12},{"p":7,"g":"m1a","x":3.81,"y":-0.75},{"p":7,"g":"m1a","x":4.14,"y":-2.61},{"p":7,"g":"m1a","x":4.79,"y":-4.47},{"p":7,"g":"m1a","x":5.6,"y":-6.96},{"p":7,"g":"m1a","x":6.41,"y":-9.44},{"p":7,"g":"m1a","x":7.22,"y":-12.55},{"p":7,"g":"m1a","x":8.03,"y":-15.65},{"p":7,"g":"m1a","x":8.43,"y":-18.76},{"p":7,"g":"m1a","x":8.68,"y":-21.86},{"p":7,"g":"m1a","x":8.68,"y":-24.97},{"p":7,"g":"m1a","x":8.68,"y":-30.0},
  {"p":7,"g":"m1b","x":-14.27,"y":7.45},{"p":7,"g":"m1b","x":-15.9,"y":7.64},{"p":7,"g":"m1b","x":-17.52,"y":7.02},{"p":7,"g":"m1b","x":-18.33,"y":5.47},{"p":7,"g":"m1b","x":-18.73,"y":2.98},{"p":7,"g":"m1b","x":-18.73,"y":-0.12},{"p":7,"g":"m1b","x":-18.33,"y":-3.23},{"p":7,"g":"m1b","x":-17.52,"y":-6.34},{"p":7,"g":"m1b","x":-16.46,"y":-9.44},{"p":7,"g":"m1b","x":-15.33,"y":-12.55},{"p":7,"g":"m1b","x":-13.87,"y":-15.65},{"p":7,"g":"m1b","x":-12.41,"y":-18.14},{"p":7,"g":"m1b","x":-10.79,"y":-20.62},{"p":7,"g":"m1b","x":-9.16,"y":-23.11},{"p":7,"g":"m1b","x":-7.79,"y":-24.97},{"p":7,"g":"m1b","x":-6.57,"y":-27.14},{"p":7,"g":"m1b","x":-5.6,"y":-29.01},{"p":7,"g":"m1b","x":-4.95,"y":-30.0},
  {"p":7,"g":"m2a","x":-10.62,"y":10.93},{"p":7,"g":"m2a","x":-7.38,"y":10.43},{"p":7,"g":"m2a","x":-4.95,"y":9.69},{"p":7,"g":"m2a","x":-3.33,"y":8.88},{"p":7,"g":"m2a","x":-1.7,"y":7.95},{"p":7,"g":"m2a","x":-0.73,"y":7.2},{"p":7,"g":"m2a","x":-0.08,"y":6.4},{"p":7,"g":"m2a","x":0.89,"y":5.34},{"p":7,"g":"m2a","x":1.7,"y":4.1},{"p":7,"g":"m2a","x":2.19,"y":2.67},{"p":7,"g":"m2a","x":3.0,"y":1.74},{"p":7,"g":"m2a","x":3.65,"y":0.5},{"p":7,"g":"m2a","x":4.06,"y":-0.87},{"p":7,"g":"m2a","x":4.3,"y":-2.11},{"p":7,"g":"m2a","x":4.95,"y":-3.11},{"p":7,"g":"m2a","x":5.92,"y":-5.22},{"p":7,"g":"m2a","x":6.89,"y":-7.7},{"p":7,"g":"m2a","x":7.87,"y":-10.19},{"p":7,"g":"m2a","x":8.84,"y":-13.29},{"p":7,"g":"m2a","x":9.65,"y":-16.27},{"p":7,"g":"m2a","x":10.3,"y":-18.76},{"p":7,"g":"m2a","x":10.87,"y":-21.86},{"p":7,"g":"m2a","x":11.11,"y":-24.97},{"p":7,"g":"m2a","x":11.35,"y":-27.45},{"p":7,"g":"m2a","x":11.68,"y":-30.0},
  {"p":7,"g":"m2b","x":-16.3,"y":11.99},{"p":7,"g":"m2b","x":-18.73,"y":11.8},{"p":7,"g":"m2b","x":-20.76,"y":11.06},{"p":7,"g":"m2b","x":-22.14,"y":10.12},{"p":7,"g":"m2b","x":-22.38,"y":8.57},{"p":7,"g":"m2b","x":-21.98,"y":6.09},{"p":7,"g":"m2b","x":-21.57,"y":2.98},{"p":7,"g":"m2b","x":-21.17,"y":-0.12},{"p":7,"g":"m2b","x":-20.68,"y":-3.23},{"p":7,"g":"m2b","x":-19.87,"y":-6.34},{"p":7,"g":"m2b","x":-18.73,"y":-9.44},{"p":7,"g":"m2b","x":-17.52,"y":-12.55},{"p":7,"g":"m2b","x":-16.06,"y":-15.65},{"p":7,"g":"m2b","x":-14.68,"y":-18.14},{"p":7,"g":"m2b","x":-13.06,"y":-20.62},{"p":7,"g":"m2b","x":-11.44,"y":-23.11},{"p":7,"g":"m2b","x":-9.98,"y":-24.97},{"p":7,"g":"m2b","x":-8.52,"y":-27.14},{"p":7,"g":"m2b","x":-7.22,"y":-28.82},{"p":7,"g":"m2b","x":-6.33,"y":-30.0},

  {"p":8,"g":"za","x":-6.91,"y":0.68},{"p":8,"g":"za","x":-4.88,"y":1.3},{"p":8,"g":"za","x":-2.85,"y":2.36},{"p":8,"g":"za","x":-1.87,"y":1.93},{"p":8,"g":"za","x":-1.38,"y":0.37},{"p":8,"g":"za","x":-0.81,"y":-1.49},{"p":8,"g":"za","x":-0.57,"y":-3.98},{"p":8,"g":"za","x":-0.24,"y":-7.7},{"p":8,"g":"za","x":0.24,"y":-11.43},{"p":8,"g":"za","x":0.81,"y":-15.16},{"p":8,"g":"za","x":1.63,"y":-18.88},{"p":8,"g":"za","x":2.44,"y":-22.61},{"p":8,"g":"za","x":3.25,"y":-26.34},{"p":8,"g":"za","x":3.66,"y":-30.0},
  {"p":8,"g":"zb","x":-11.79,"y":0.87},{"p":8,"g":"zb","x":-13.41,"y":0.37},{"p":8,"g":"zb","x":-15.04,"y":-0.56},{"p":8,"g":"zb","x":-16.02,"y":-2.11},{"p":8,"g":"zb","x":-16.42,"y":-4.6},{"p":8,"g":"zb","x":-16.26,"y":-7.7},{"p":8,"g":"zb","x":-15.85,"y":-10.81},{"p":8,"g":"zb","x":-15.04,"y":-13.91},{"p":8,"g":"zb","x":-13.82,"y":-17.02},{"p":8,"g":"zb","x":-12.2,"y":-20.12},{"p":8,"g":"zb","x":-10.57,"y":-22.61},{"p":8,"g":"zb","x":-8.94,"y":-25.09},{"p":8,"g":"zb","x":-7.32,"y":-26.96},{"p":8,"g":"zb","x":-5.69,"y":-28.82},{"p":8,"g":"zb","x":-4.47,"y":-30.0},
  {"p":8,"g":"m1a","x":-8.94,"y":6.27},{"p":8,"g":"m1a","x":-6.1,"y":6.58},{"p":8,"g":"m1a","x":-3.66,"y":6.46},{"p":8,"g":"m1a","x":-1.63,"y":6.09},{"p":8,"g":"m1a","x":-0.41,"y":5.34},{"p":8,"g":"m1a","x":0.41,"y":4.1},{"p":8,"g":"m1a","x":1.22,"y":2.86},{"p":8,"g":"m1a","x":1.63,"y":1.61},{"p":8,"g":"m1a","x":2.44,"y":0.37},{"p":8,"g":"m1a","x":3.01,"y":-1.49},{"p":8,"g":"m1a","x":3.66,"y":-3.35},{"p":8,"g":"m1a","x":4.31,"y":-5.84},{"p":8,"g":"m1a","x":4.88,"y":-8.94},{"p":8,"g":"m1a","x":5.45,"y":-12.67},{"p":8,"g":"m1a","x":6.1,"y":-16.4},{"p":8,"g":"m1a","x":6.75,"y":-20.12},{"p":8,"g":"m1a","x":7.32,"y":-23.85},{"p":8,"g":"m1a","x":7.72,"y":-26.96},{"p":8,"g":"m1a","x":7.89,"y":-30.0},
  {"p":8,"g":"m1b","x":-15.04,"y":6.89},{"p":8,"g":"m1b","x":-17.07,"y":7.2},{"p":8,"g":"m1b","x":-19.11,"y":6.58},{"p":8,"g":"m1b","x":-20.33,"y":5.34},{"p":8,"g":"m1b","x":-20.73,"y":2.86},{"p":8,"g":"m1b","x":-20.89,"y":-0.25},{"p":8,"g":"m1b","x":-20.73,"y":-3.35},{"p":8,"g":"m1b","x":-20.33,"y":-6.46},{"p":8,"g":"m1b","x":-19.51,"y":-9.57},{"p":8,"g":"m1b","x":-18.46,"y":-12.67},{"p":8,"g":"m1b","x":-17.07,"y":-15.78},{"p":8,"g":"m1b","x":-15.45,"y":-18.88},{"p":8,"g":"m1b","x":-13.82,"y":-21.37},{"p":8,"g":"m1b","x":-12.2,"y":-23.85},{"p":8,"g":"m1b","x":-10.98,"y":-26.34},{"p":8,"g":"m1b","x":-9.76,"y":-28.82},{"p":8,"g":"m1b","x":-9.11,"y":-30.0},
  {"p":8,"g":"m2a","x":-11.79,"y":11.06},{"p":8,"g":"m2a","x":-9.35,"y":10.31},{"p":8,"g":"m2a","x":-6.91,"y":9.38},{"p":8,"g":"m2a","x":-4.47,"y":8.45},{"p":8,"g":"m2a","x":-2.44,"y":7.52},{"p":8,"g":"m2a","x":-0.81,"y":6.58},{"p":8,"g":"m2a","x":0.0,"y":5.34},{"p":8,"g":"m2a","x":0.81,"y":4.1},{"p":8,"g":"m2a","x":1.87,"y":2.86},{"p":8,"g":"m2a","x":2.44,"y":1.3},{"p":8,"g":"m2a","x":3.25,"y":-0.25},{"p":8,"g":"m2a","x":3.66,"y":-2.11},{"p":8,"g":"m2a","x":4.47,"y":-3.98},{"p":8,"g":"m2a","x":5.12,"y":-6.46},{"p":8,"g":"m2a","x":5.93,"y":-8.94},{"p":8,"g":"m2a","x":6.75,"y":-12.05},{"p":8,"g":"m2a","x":7.72,"y":-15.16},{"p":8,"g":"m2a","x":8.54,"y":-18.26},{"p":8,"g":"m2a","x":9.19,"y":-21.37},{"p":8,"g":"m2a","x":9.76,"y":-24.47},{"p":8,"g":"m2a","x":10.33,"y":-27.58},{"p":8,"g":"m2a","x":10.81,"y":-30.0},
  {"p":8,"g":"m2b","x":-18.7,"y":10.81},{"p":8,"g":"m2b","x":-21.14,"y":11.06},{"p":8,"g":"m2b","x":-22.52,"y":11.55},{"p":8,"g":"m2b","x":-23.58,"y":10.0},{"p":8,"g":"m2b","x":-24.39,"y":8.45},{"p":8,"g":"m2b","x":-24.8,"y":5.96},{"p":8,"g":"m2b","x":-24.8,"y":2.86},{"p":8,"g":"m2b","x":-24.55,"y":-0.25},{"p":8,"g":"m2b","x":-24.15,"y":-3.35},{"p":8,"g":"m2b","x":-23.58,"y":-6.46},{"p":8,"g":"m2b","x":-22.76,"y":-9.57},{"p":8,"g":"m2b","x":-21.54,"y":-12.67},{"p":8,"g":"m2b","x":-20.08,"y":-15.78},{"p":8,"g":"m2b","x":-18.46,"y":-18.88},{"p":8,"g":"m2b","x":-16.67,"y":-21.99},{"p":8,"g":"m2b","x":-15.04,"y":-24.47},{"p":8,"g":"m2b","x":-13.41,"y":-26.65},{"p":8,"g":"m2b","x":-11.79,"y":-28.51},{"p":8,"g":"m2b","x":-10.33,"y":-30.0},

  {"p":9,"g":"za","x":-5.37,"y":-1.54},{"p":9,"g":"za","x":-4.27,"y":-0.12},{"p":9,"g":"za","x":-3.23,"y":1.54},{"p":9,"g":"za","x":-2.32,"y":2.35},{"p":9,"g":"za","x":-1.4,"y":2.16},{"p":9,"g":"za","x":-0.61,"y":1.23},{"p":9,"g":"za","x":0.0,"y":0.0},{"p":9,"g":"za","x":-0.18,"y":-1.85},{"p":9,"g":"za","x":-0.61,"y":-3.58},{"p":9,"g":"za","x":-0.79,"y":-5.25},{"p":9,"g":"za","x":-0.49,"y":-8.02},{"p":9,"g":"za","x":0.12,"y":-11.11},{"p":9,"g":"za","x":0.85,"y":-14.2},{"p":9,"g":"za","x":1.83,"y":-17.9},{"p":9,"g":"za","x":3.05,"y":-21.6},{"p":9,"g":"za","x":4.7,"y":-25.0},{"p":9,"g":"za","x":6.52,"y":-27.47},{"p":9,"g":"za","x":7.74,"y":-30.0},
  {"p":9,"g":"zb","x":-9.94,"y":-1.23},{"p":9,"g":"zb","x":-12.07,"y":-1.23},{"p":9,"g":"zb","x":-13.9,"y":-1.54},{"p":9,"g":"zb","x":-15.61,"y":-2.16},{"p":9,"g":"zb","x":-16.65,"y":-3.4},{"p":9,"g":"zb","x":-17.07,"y":-4.94},{"p":9,"g":"zb","x":-17.26,"y":-7.41},{"p":9,"g":"zb","x":-17.07,"y":-10.49},{"p":9,"g":"zb","x":-16.65,"y":-13.58},{"p":9,"g":"zb","x":-15.85,"y":-16.67},{"p":9,"g":"zb","x":-14.82,"y":-19.75},{"p":9,"g":"zb","x":-13.29,"y":-22.84},{"p":9,"g":"zb","x":-11.46,"y":-25.31},{"p":9,"g":"zb","x":-9.63,"y":-27.47},{"p":9,"g":"zb","x":-8.11,"y":-29.01},{"p":9,"g":"zb","x":-7.2,"y":-30.0},
  {"p":9,"g":"m1a","x":-14.21,"y":5.56},{"p":9,"g":"m1a","x":-16.95,"y":5.56},{"p":9,"g":"m1a","x":-19.39,"y":4.94},{"p":9,"g":"m1a","x":-21.22,"y":4.01},{"p":9,"g":"m1a","x":-22.44,"y":2.47},{"p":9,"g":"m1a","x":-22.74,"y":0.62},{"p":9,"g":"m1a","x":-22.74,"y":-1.85},{"p":9,"g":"m1a","x":-22.44,"y":-4.94},{"p":9,"g":"m1a","x":-21.95,"y":-8.02},{"p":9,"g":"m1a","x":-21.34,"y":-11.11},{"p":9,"g":"m1a","x":-20.61,"y":-14.2},{"p":9,"g":"m1a","x":-19.39,"y":-17.28},{"p":9,"g":"m1a","x":-17.87,"y":-20.37},{"p":9,"g":"m1a","x":-16.04,"y":-23.46},{"p":9,"g":"m1a","x":-14.21,"y":-25.93},{"p":9,"g":"m1a","x":-12.38,"y":-27.78},{"p":9,"g":"m1a","x":-10.85,"y":-29.01},{"p":9,"g":"m1a","x":-9.94,"y":-30.0},
  {"p":9,"g":"m1b","x":-9.02,"y":5.56},{"p":9,"g":"m1b","x":-5.98,"y":5.68},{"p":9,"g":"m1b","x":-3.54,"y":5.68},{"p":9,"g":"m1b","x":-1.71,"y":5.43},{"p":9,"g":"m1b","x":-0.18,"y":4.81},{"p":9,"g":"m1b","x":1.04,"y":4.01},{"p":9,"g":"m1b","x":1.83,"y":3.09},{"p":9,"g":"m1b","x":2.56,"y":1.85},{"p":9,"g":"m1b","x":3.17,"y":0.62},{"p":9,"g":"m1b","x":3.48,"y":-1.85},{"p":9,"g":"m1b","x":3.9,"y":-5.56},{"p":9,"g":"m1b","x":4.39,"y":-8.64},{"p":9,"g":"m1b","x":5.0,"y":-11.73},{"p":9,"g":"m1b","x":5.73,"y":-14.81},{"p":9,"g":"m1b","x":6.52,"y":-18.52},{"p":9,"g":"m1b","x":7.44,"y":-22.22},{"p":9,"g":"m1b","x":8.66,"y":-25.31},{"p":9,"g":"m1b","x":9.57,"y":-27.78},{"p":9,"g":"m1b","x":10.0,"y":-30.0},
  {"p":9,"g":"m2a","x":-16.95,"y":11.42},{"p":9,"g":"m2a","x":-18.48,"y":11.6},{"p":9,"g":"m2a","x":-20.0,"y":11.11},{"p":9,"g":"m2a","x":-21.83,"y":9.88},{"p":9,"g":"m2a","x":-23.66,"y":8.33},{"p":9,"g":"m2a","x":-25.0,"y":6.79},{"p":9,"g":"m2a","x":-25.79,"y":4.94},{"p":9,"g":"m2a","x":-26.1,"y":2.47},{"p":9,"g":"m2a","x":-25.98,"y":-0.62},{"p":9,"g":"m2a","x":-25.61,"y":-3.7},{"p":9,"g":"m2a","x":-25.0,"y":-6.79},{"p":9,"g":"m2a","x":-24.27,"y":-9.88},{"p":9,"g":"m2a","x":-23.35,"y":-12.96},{"p":9,"g":"m2a","x":-22.13,"y":-16.05},{"p":9,"g":"m2a","x":-20.61,"y":-19.14},{"p":9,"g":"m2a","x":-18.78,"y":-22.22},{"p":9,"g":"m2a","x":-16.95,"y":-24.69},{"p":9,"g":"m2a","x":-15.12,"y":-26.54},{"p":9,"g":"m2a","x":-13.29,"y":-28.09},{"p":9,"g":"m2a","x":-12.07,"y":-29.01},{"p":9,"g":"m2a","x":-11.46,"y":-30.0},
  {"p":9,"g":"m2b","x":-10.85,"y":9.57},{"p":9,"g":"m2b","x":-8.41,"y":8.95},{"p":9,"g":"m2b","x":-5.98,"y":8.33},{"p":9,"g":"m2b","x":-3.84,"y":7.9},{"p":9,"g":"m2b","x":-2.01,"y":7.1},{"p":9,"g":"m2b","x":-0.79,"y":6.48},{"p":9,"g":"m2b","x":0.12,"y":5.68},{"p":9,"g":"m2b","x":1.04,"y":5.06},{"p":9,"g":"m2b","x":1.83,"y":3.7},{"p":9,"g":"m2b","x":2.68,"y":2.47},{"p":9,"g":"m2b","x":3.48,"y":1.23},{"p":9,"g":"m2b","x":4.27,"y":-0.31},{"p":9,"g":"m2b","x":4.88,"y":-1.85},{"p":9,"g":"m2b","x":5.3,"y":-3.7},{"p":9,"g":"m2b","x":5.73,"y":-6.17},{"p":9,"g":"m2b","x":6.22,"y":-9.26},{"p":9,"g":"m2b","x":6.83,"y":-12.35},{"p":9,"g":"m2b","x":7.56,"y":-15.43},{"p":9,"g":"m2b","x":8.35,"y":-18.52},{"p":9,"g":"m2b","x":8.96,"y":-21.6},{"p":9,"g":"m2b","x":9.76,"y":-24.69},{"p":9,"g":"m2b","x":10.37,"y":-27.47},{"p":9,"g":"m2b","x":10.61,"y":-30.0}
 ],
 "labels": [
  {"p":1,"t":"0","x":1.8,"y":-2.0},{"p":1,"t":"-1","x":0.0,"y":-4.3},
  {"p":2,"t":"1","x":1.35,"y":-2.9},{"p":2,"t":"0","x":3.5,"y":-7.8},{"p":2,"t":"-1","x":5.3,"y":-10.9},{"p":2,"t":"-2","x":8.6,"y":-12.6},
  {"p":3,"t":"1","x":0.86,"y":-6.9},{"p":3,"t":"0","x":4.97,"y":-12.53},{"p":3,"t":"-1","x":7.42,"y":-15.31},{"p":3,"t":"-2","x":9.26,"y":-17.78},
  {"p":4,"t":"1","x":-0.62,"y":-9.07},{"p":4,"t":"0","x":3.88,"y":-18.64},{"p":4,"t":"-1","x":7.69,"y":-20.49},{"p":4,"t":"-2","x":10.03,"y":-24.81},
  {"p":5,"t":"-2","x":-12.74,"y":12.24},{"p":5,"t":"1","x":-1.48,"y":-10.56},{"p":5,"t":"0","x":4.18,"y":-19.88},{"p":5,"t":"-1","x":6.77,"y":-25.47},
  {"p":6,"t":"-2","x":-13.03,"y":12.04},{"p":6,"t":"-1","x":-12.12,"y":8.33},{"p":6,"t":"1","x":-2.24,"y":-12.22},{"p":6,"t":"0","x":4.55,"y":-24.57},
  {"p":7,"t":"-2","x":-13.71,"y":11.18},{"p":7,"t":"-1","x":-12.08,"y":7.02},{"p":7,"t":"0","x":-10.22,"y":2.24},{"p":7,"t":"1","x":-4.14,"y":-14.29},
  {"p":8,"t":"-2","x":-15.85,"y":10.31},{"p":8,"t":"-1","x":-12.2,"y":5.96},{"p":8,"t":"0","x":-9.35,"y":0.37},
  {"p":9,"t":"-2","x":-13.29,"y":8.95},{"p":9,"t":"-1","x":-12.2,"y":4.81},{"p":9,"t":"0","x":-7.8,"y":-2.16}
 ],
 "quakes": [
  {"x":1.65,"y":9.88},{"x":-9.76,"y":1.85},{"x":-4.88,"y":0.93},{"x":-1.83,"y":0.37},{"x":0.43,"y":1.98},{"x":2.26,"y":-0.31},{"x":5.0,"y":-0.74},{"x":9.88,"y":-1.54},{"x":-0.18,"y":-1.85},{"x":-0.79,"y":-4.81},{"x":-6.28,"y":-7.53},{"x":-1.71,"y":-9.75},{"x":3.48,"y":-9.26},{"x":-12.8,"y":-15.19},{"x":-2.44,"y":-14.69},{"x":6.95,"y":-18.52},{"x":-3.41,"y":-19.44},{"x":-4.94,"y":-29.32}
 ]
},
"columns": 3,
"spacing": {"row": 29, "column": 31},
"bounds": "flush",
"concat": [
 {"width": 326, "height": 325, "title": {"text": ["Time (day)", "0.1"], "offset": -97}, "layer": [
  {"data": {"name": "lines"}, "transform": [{"filter": "datum.p == 1"}], "mark": "line", "encoding": {
   "x": {"field": "x", "type": "quantitative", "scale": {"domain": [-30, 30], "nice": false}, "axis": {"orient": "bottom", "values": [-20,-10,0,10,20,30], "labels": false, "title": null}},
   "y": {"field": "y", "type": "quantitative", "scale": {"domain": [-30, 30], "nice": false}, "axis": {"orient": "left", "values": [-20,-10,0,10,20,30], "title": "km"}},
   "detail": {"field": "g"}, "order": {"value": null}}},
  {"data": {"name": "labels"}, "transform": [{"filter": "datum.p == 1"}], "mark": "text", "encoding": {
   "x": {"field": "x", "type": "quantitative", "scale": {"domain": [-30, 30], "nice": false}, "axis": {"orient": "top", "values": [-20,-10,0,10,20], "labels": false, "title": null}},
   "y": {"field": "y", "type": "quantitative", "scale": {"domain": [-30, 30], "nice": false}, "axis": {"orient": "right", "values": [-20,-10,0,10,20], "labels": false, "title": null}},
   "text": {"field": "t"}}}]},
 {"width": 326, "height": 325, "title": {"text": ["Time (day)", "3.2"], "offset": -87}, "layer": [
  {"data": {"name": "lines"}, "transform": [{"filter": "datum.p == 2"}], "mark": "line", "encoding": {
   "x": {"field": "x", "type": "quantitative", "scale": {"domain": [-30, 30], "nice": false}, "axis": {"orient": "bottom", "values": [-20,-10,0,10,20,30], "labels": false, "title": null}},
   "y": {"field": "y", "type": "quantitative", "scale": {"domain": [-30, 30], "nice": false}, "axis": {"orient": "left", "values": [-20,-10,0,10,20,30], "labels": false, "title": null}},
   "detail": {"field": "g"}, "order": {"value": null}}},
  {"data": {"name": "labels"}, "transform": [{"filter": "datum.p == 2"}], "mark": "text", "encoding": {
   "x": {"field": "x", "type": "quantitative", "scale": {"domain": [-30, 30], "nice": false}, "axis": {"orient": "top", "values": [-20,-10,0,10,20], "labels": false, "title": null}},
   "y": {"field": "y", "type": "quantitative", "scale": {"domain": [-30, 30], "nice": false}, "axis": {"orient": "right", "values": [-20,-10,0,10,20], "labels": false, "title": null}},
   "text": {"field": "t"}}}]},
 {"width": 326, "height": 325, "title": {"text": ["Time (day)", "6.3"], "offset": -87}, "layer": [
  {"data": {"name": "lines"}, "transform": [{"filter": "datum.p == 3"}], "mark": "line", "encoding": {
   "x": {"field": "x", "type": "quantitative", "scale": {"domain": [-30, 30], "nice": false}, "axis": {"orient": "bottom", "values": [-20,-10,0,10,20,30], "labels": false, "title": null}},
   "y": {"field": "y", "type": "quantitative", "scale": {"domain": [-30, 30], "nice": false}, "axis": {"orient": "left", "values": [-20,-10,0,10,20,30], "labels": false, "title": null}},
   "detail": {"field": "g"}, "order": {"value": null}}},
  {"data": {"name": "labels"}, "transform": [{"filter": "datum.p == 3"}], "mark": "text", "encoding": {
   "x": {"field": "x", "type": "quantitative", "scale": {"domain": [-30, 30], "nice": false}, "axis": {"orient": "top", "values": [-20,-10,0,10,20], "labels": false, "title": null}},
   "y": {"field": "y", "type": "quantitative", "scale": {"domain": [-30, 30], "nice": false}, "axis": {"orient": "right", "values": [-20,-10,0,10,20], "labels": false, "title": null}},
   "text": {"field": "t"}}}]},
 {"width": 326, "height": 325, "title": {"text": ["Time (day)", "9.4"], "offset": -97}, "layer": [
  {"data": {"name": "lines"}, "transform": [{"filter": "datum.p == 4"}], "mark": "line", "encoding": {
   "x": {"field": "x", "type": "quantitative", "scale": {"domain": [-30, 30], "nice": false}, "axis": {"orient": "bottom", "values": [-20,-10,0,10,20,30], "labels": false, "title": null}},
   "y": {"field": "y", "type": "quantitative", "scale": {"domain": [-30, 30], "nice": false}, "axis": {"orient": "left", "values": [-20,-10,0,10,20,30], "title": "km"}},
   "detail": {"field": "g"}, "order": {"value": null}}},
  {"data": {"name": "labels"}, "transform": [{"filter": "datum.p == 4"}], "mark": "text", "encoding": {
   "x": {"field": "x", "type": "quantitative", "scale": {"domain": [-30, 30], "nice": false}, "axis": {"orient": "top", "values": [-20,-10,0,10,20], "labels": false, "title": null}},
   "y": {"field": "y", "type": "quantitative", "scale": {"domain": [-30, 30], "nice": false}, "axis": {"orient": "right", "values": [-20,-10,0,10,20], "labels": false, "title": null}},
   "text": {"field": "t"}}}]},
 {"width": 326, "height": 325, "title": {"text": ["Time (day)", "12.5"], "offset": -87}, "layer": [
  {"data": {"name": "lines"}, "transform": [{"filter": "datum.p == 5"}], "mark": "line", "encoding": {
   "x": {"field": "x", "type": "quantitative", "scale": {"domain": [-30, 30], "nice": false}, "axis": {"orient": "bottom", "values": [-20,-10,0,10,20,30], "labels": false, "title": null}},
   "y": {"field": "y", "type": "quantitative", "scale": {"domain": [-30, 30], "nice": false}, "axis": {"orient": "left", "values": [-20,-10,0,10,20,30], "labels": false, "title": null}},
   "detail": {"field": "g"}, "order": {"value": null}}},
  {"data": {"name": "labels"}, "transform": [{"filter": "datum.p == 5"}], "mark": "text", "encoding": {
   "x": {"field": "x", "type": "quantitative", "scale": {"domain": [-30, 30], "nice": false}, "axis": {"orient": "top", "values": [-20,-10,0,10,20], "labels": false, "title": null}},
   "y": {"field": "y", "type": "quantitative", "scale": {"domain": [-30, 30], "nice": false}, "axis": {"orient": "right", "values": [-20,-10,0,10,20], "labels": false, "title": null}},
   "text": {"field": "t"}}}]},
 {"width": 326, "height": 325, "title": {"text": ["Time (day)", "15.6"], "offset": -87}, "layer": [
  {"data": {"name": "lines"}, "transform": [{"filter": "datum.p == 6"}], "mark": "line", "encoding": {
   "x": {"field": "x", "type": "quantitative", "scale": {"domain": [-30, 30], "nice": false}, "axis": {"orient": "bottom", "values": [-20,-10,0,10,20,30], "labels": false, "title": null}},
   "y": {"field": "y", "type": "quantitative", "scale": {"domain": [-30, 30], "nice": false}, "axis": {"orient": "left", "values": [-20,-10,0,10,20,30], "labels": false, "title": null}},
   "detail": {"field": "g"}, "order": {"value": null}}},
  {"data": {"name": "labels"}, "transform": [{"filter": "datum.p == 6"}], "mark": "text", "encoding": {
   "x": {"field": "x", "type": "quantitative", "scale": {"domain": [-30, 30], "nice": false}, "axis": {"orient": "top", "values": [-20,-10,0,10,20], "labels": false, "title": null}},
   "y": {"field": "y", "type": "quantitative", "scale": {"domain": [-30, 30], "nice": false}, "axis": {"orient": "right", "values": [-20,-10,0,10,20], "labels": false, "title": null}},
   "text": {"field": "t"}}}]},
 {"width": 326, "height": 325, "title": {"text": ["Time (day)", "18.7"], "offset": -97}, "layer": [
  {"data": {"name": "lines"}, "transform": [{"filter": "datum.p == 7"}], "mark": "line", "encoding": {
   "x": {"field": "x", "type": "quantitative", "scale": {"domain": [-30, 30], "nice": false}, "axis": {"orient": "bottom", "values": [-20,-10,0,10,20,30], "title": "km"}},
   "y": {"field": "y", "type": "quantitative", "scale": {"domain": [-30, 30], "nice": false}, "axis": {"orient": "left", "values": [-20,-10,0,10,20,30], "title": "km"}},
   "detail": {"field": "g"}, "order": {"value": null}}},
  {"data": {"name": "labels"}, "transform": [{"filter": "datum.p == 7"}], "mark": "text", "encoding": {
   "x": {"field": "x", "type": "quantitative", "scale": {"domain": [-30, 30], "nice": false}, "axis": {"orient": "top", "values": [-20,-10,0,10,20], "labels": false, "title": null}},
   "y": {"field": "y", "type": "quantitative", "scale": {"domain": [-30, 30], "nice": false}, "axis": {"orient": "right", "values": [-20,-10,0,10,20], "labels": false, "title": null}},
   "text": {"field": "t"}}}]},
 {"width": 326, "height": 325, "title": {"text": ["Time (day)", "21.8"], "offset": -87}, "layer": [
  {"data": {"name": "lines"}, "transform": [{"filter": "datum.p == 8"}], "mark": "line", "encoding": {
   "x": {"field": "x", "type": "quantitative", "scale": {"domain": [-30, 30], "nice": false}, "axis": {"orient": "bottom", "values": [-20,-10,0,10,20,30], "title": "km"}},
   "y": {"field": "y", "type": "quantitative", "scale": {"domain": [-30, 30], "nice": false}, "axis": {"orient": "left", "values": [-20,-10,0,10,20,30], "labels": false, "title": null}},
   "detail": {"field": "g"}, "order": {"value": null}}},
  {"data": {"name": "labels"}, "transform": [{"filter": "datum.p == 8"}], "mark": "text", "encoding": {
   "x": {"field": "x", "type": "quantitative", "scale": {"domain": [-30, 30], "nice": false}, "axis": {"orient": "top", "values": [-20,-10,0,10,20], "labels": false, "title": null}},
   "y": {"field": "y", "type": "quantitative", "scale": {"domain": [-30, 30], "nice": false}, "axis": {"orient": "right", "values": [-20,-10,0,10,20], "labels": false, "title": null}},
   "text": {"field": "t"}}}]},
 {"width": 326, "height": 325, "title": {"text": ["Time (day)", "24.9"], "offset": -87}, "layer": [
  {"data": {"name": "lines"}, "transform": [{"filter": "datum.p == 9"}], "mark": "line", "encoding": {
   "x": {"field": "x", "type": "quantitative", "scale": {"domain": [-30, 30], "nice": false}, "axis": {"orient": "bottom", "values": [-20,-10,0,10,20,30], "title": "ˣ   km"}},
   "y": {"field": "y", "type": "quantitative", "scale": {"domain": [-30, 30], "nice": false}, "axis": {"orient": "left", "values": [-20,-10,0,10,20,30], "labels": false, "title": null}},
   "detail": {"field": "g"}, "order": {"value": null}}},
  {"data": {"name": "labels"}, "transform": [{"filter": "datum.p == 9"}], "mark": "text", "encoding": {
   "x": {"field": "x", "type": "quantitative", "scale": {"domain": [-30, 30], "nice": false}, "axis": {"orient": "top", "values": [-20,-10,0,10,20], "labels": false, "title": null}},
   "y": {"field": "y", "type": "quantitative", "scale": {"domain": [-30, 30], "nice": false}, "axis": {"orient": "right", "values": [-20,-10,0,10,20], "labels": false, "title": null}},
   "text": {"field": "t"}}},
  {"data": {"name": "quakes"}, "mark": {"type": "point", "shape": "M-1,-1L1,1M-1,1L1,-1", "size": 45, "filled": false, "stroke": "black", "strokeWidth": 1.2, "opacity": 1}, "encoding": {
   "x": {"field": "x", "type": "quantitative", "scale": {"domain": [-30, 30], "nice": false}, "axis": null},
   "y": {"field": "y", "type": "quantitative", "scale": {"domain": [-30, 30], "nice": false}, "axis": null}}}]}
]
}
